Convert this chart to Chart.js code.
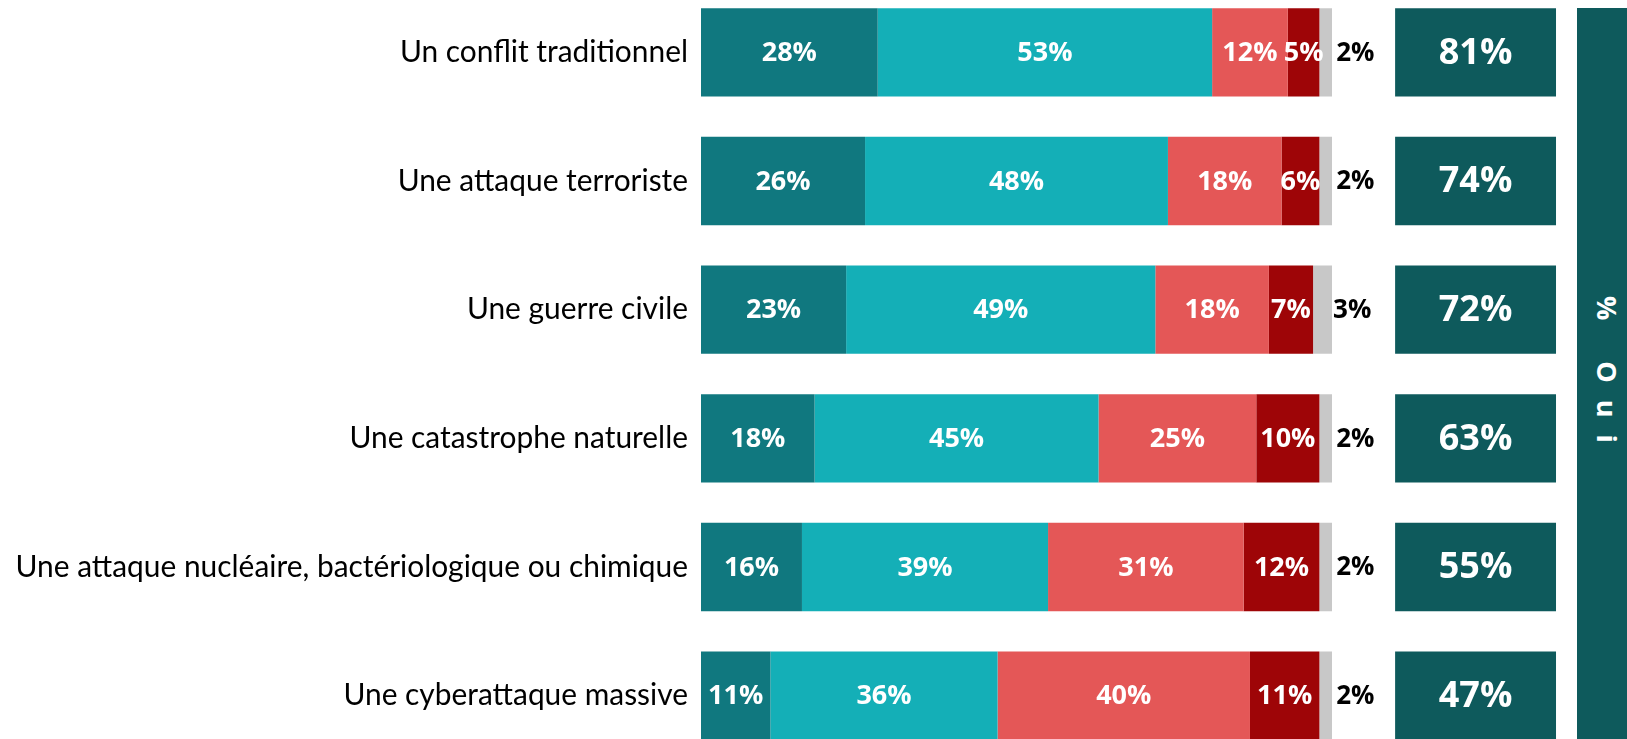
<!DOCTYPE html>
<html>
<head>
<meta charset="utf-8">
<script src="https://cdn.jsdelivr.net/npm/chart.js@4/dist/chart.umd.min.js"></script>
<style>
  html, body { margin: 0; padding: 0; background: #ffffff; }
  body { width: 1627px; height: 739px; overflow: hidden; position: relative; }
  #c { position: absolute; left: 0; top: -12px; }
  #banner { position: absolute; left: 1577px; top: 8px; width: 60px; height: 740px; background: #0E5A5C; }
  #bannerText { position: absolute; left: 0; top: 0; width: 60px; height: 740px;
    display: flex; align-items: center; justify-content: center; }
  #bannerText span { writing-mode: vertical-rl; color: #ffffff; font-family: "Open Sans", sans-serif;
    font-weight: 700; font-size: 27px; letter-spacing: 17px; white-space: pre; }
</style>
</head>
<body>
<canvas id="c" width="1627" height="772"></canvas>
<div id="banner"><div id="bannerText"><span>% Oui</span></div></div>
<script>
// ---- Data ----
const categories = [
  "Un conflit traditionnel",
  "Une attaque terroriste",
  "Une guerre civile",
  "Une catastrophe naturelle",
  "Une attaque nucléaire, bactériologique ou chimique",
  "Une cyberattaque massive"
];
const seriesNames = ["Oui, tout à fait", "Oui, plutôt", "Non, plutôt pas", "Non, pas du tout", "Ne sait pas"];
const tresProbable   = [28, 26, 23, 18, 16, 11];
const plutotProbable = [53, 48, 49, 45, 39, 36];
const plutotPas      = [12, 18, 18, 25, 31, 40];
const pasDuTout      = [5, 6, 7, 10, 12, 11];
const nsp            = [2, 2, 3, 2, 2, 2];
const ouiTotal       = [81, 74, 72, 63, 55, 47];

// ---- Styles / layout ----
const colors = ["#10787F", "#14AFB7", "#E45757", "#9E0507", "#C8C8C8"];
const OUI_COLOR = "#0E5A5C";
const OUI_BOX = [110, 135.5];       // layout position of the "% Oui" column on the value axis
const X_MAX = 146.75;
const BAR_RATIO = 0.686;

const stackSeries = [tresProbable, plutotProbable, plutotPas, pasDuTout, nsp];
const datasets = stackSeries.map((arr, i) => ({
  label: seriesNames[i],
  data: arr,
  backgroundColor: colors[i],
  borderWidth: 0,
  stack: "main",
  categoryPercentage: 1,
  barPercentage: BAR_RATIO,
  labelMode: i === 4 ? "outside" : "inside"
}));
datasets.push({
  label: "% Oui",
  data: ouiTotal.map(() => OUI_BOX.slice()),
  ouiValues: ouiTotal,
  backgroundColor: OUI_COLOR,
  borderWidth: 0,
  stack: "oui",
  grouped: false,
  categoryPercentage: 1,
  barPercentage: BAR_RATIO,
  labelMode: "oui"
});

// category label font sizing (Calibri-like width)
const LABEL_FONT_FAMILY = "Lato, 'Open Sans', sans-serif";
const mctx = document.createElement("canvas").getContext("2d");
mctx.font = "100px " + LABEL_FONT_FAMILY;
const longest = Math.max(...categories.map(c => mctx.measureText(c).width));
const labelSize = Math.round(100 * 672 / longest * 10) / 10;

const labelPlugin = {
  id: "valueLabels",
  afterDatasetsDraw(chart) {
    const ctx = chart.ctx;
    chart.data.datasets.forEach((ds, di) => {
      const meta = chart.getDatasetMeta(di);
      meta.data.forEach((bar, idx) => {
        const p = bar.getProps(["x", "y", "base"], true);
        const cx = (p.x + p.base) / 2;
        ctx.save();
        ctx.textBaseline = "middle";
        if (ds.labelMode === "inside") {
          ctx.fillStyle = "#ffffff";
          ctx.font = "700 27px 'Open Sans', sans-serif";
          ctx.textAlign = "center";
          ctx.fillText(ds.data[idx] + "%", cx, p.y + 1);
        } else if (ds.labelMode === "outside") {
          ctx.fillStyle = "#000000";
          ctx.font = "700 26px 'Open Sans', sans-serif";
          ctx.textAlign = "left";
          ctx.fillText(ds.data[idx] + "%", cx + 10.5, p.y + 1);
        } else {
          ctx.fillStyle = "#ffffff";
          ctx.font = "700 36px 'Open Sans', sans-serif";
          ctx.textAlign = "center";
          ctx.fillText(ds.ouiValues[idx] + "%", cx, p.y + 1);
        }
        ctx.restore();
      });
    });
  }
};

new Chart(document.getElementById("c"), {
  type: "bar",
  data: { labels: categories, datasets },
  options: {
    indexAxis: "y",
    responsive: false,
    animation: false,
    layout: { padding: 0 },
    plugins: { legend: { display: false }, tooltip: { enabled: false }, title: { display: false } },
    scales: {
      x: { stacked: true, min: 0, max: X_MAX, display: false },
      y: {
        stacked: true,
        grid: { display: false, drawTicks: false },
        border: { display: false },
        ticks: { color: "#000000", padding: 13, font: { family: LABEL_FONT_FAMILY, size: labelSize } },
        afterFit(scale) { scale.width = 701; scale.paddingTop = 0; scale.paddingBottom = 0; }
      }
    }
  },
  plugins: [labelPlugin]
});
</script>
</body>
</html>
